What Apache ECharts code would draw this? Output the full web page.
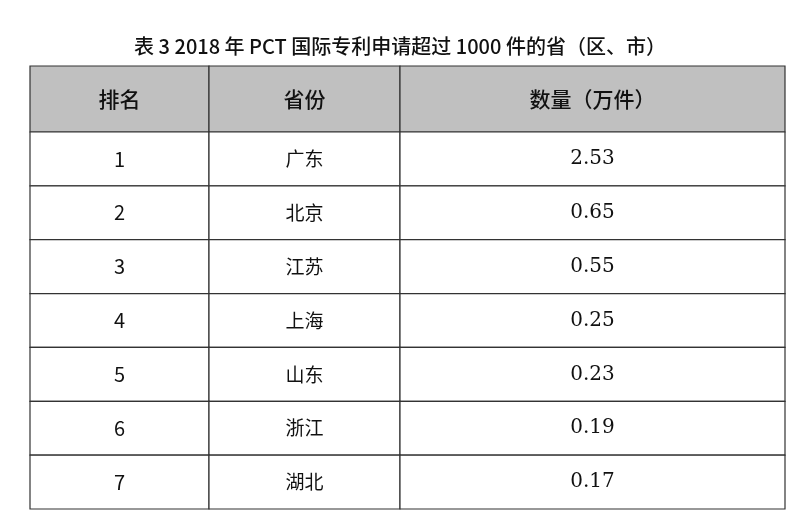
<!DOCTYPE html>
<html><head><meta charset="utf-8">
<script src="https://cdn.jsdelivr.net/npm/echarts@6/dist/echarts.min.js"></script>
<style>html,body{margin:0;background:#fff}#c{width:800px;height:520px}</style>
</head><body><div id="c"></div>
<script>
const title = '表 3 2018 年 PCT 国际专利申请超过 1000 件的省（区、市）';
const headers = ['排名', '省份', '数量（万件）'];
const ranks = ['1','2','3','4','5','6','7'];
const provinces = ['广东','北京','江苏','上海','山东','浙江','湖北'];
const values = [2.53, 0.65, 0.55, 0.25, 0.23, 0.19, 0.17];

const colEdges = [0, 179, 370, 755];
const headerH = 66, rowH = 53.86;
function rowTop(r){ return r === 0 ? 0 : headerH + (r-1)*rowH; }
function rowBot(r){ return r === 0 ? headerH : headerH + r*rowH; }

const cells = [];
headers.forEach((h,c)=>cells.push([c,0,h]));
ranks.forEach((rk,i)=>{
  cells.push([0,i+1,rk]);
  cells.push([1,i+1,provinces[i]]);
  cells.push([2,i+1,values[i].toFixed(2)]);
});

const chart = echarts.init(document.getElementById('c'));
chart.setOption({
  animation:false,
  title:{text:title,left:'center',top:31,textStyle:{fontFamily:'Noto Sans CJK SC',fontSize:20,fontWeight:500,color:'#111'}},
  grid:{left:30,top:66,width:755,height:443},
  xAxis:{type:'value',min:0,max:755,show:false},
  yAxis:{type:'value',min:0,max:443,inverse:true,show:false},
  series:[{
    type:'custom',
    data:cells,
    renderItem:function(params,api){
      const c=api.value(0), r=api.value(1);
      const p0=api.coord([colEdges[c],rowTop(r)]);
      const p1=api.coord([colEdges[c+1],rowBot(r)]);
      const txt=cells[params.dataIndex][2];
      const isHead=r===0;
      const isNum=!isHead && c===2;
      return {type:'group',children:[
        {type:'rect',shape:{x:p0[0],y:p0[1],width:p1[0]-p0[0],height:p1[1]-p0[1]},
         style:{fill:isHead?'#c0c0c0':'#fff',stroke:'#333',lineWidth:1.2}},
        {type:'text',style:{text:txt,x:(p0[0]+p1[0])/2,y:(p0[1]+p1[1])/2,align:'center',verticalAlign:'middle',
          fontFamily:isNum?'DejaVu Serif':'Noto Sans CJK SC',
          fontWeight:isHead?500:'normal',fontSize:isHead?21:(c===1?19:20),
          fill:'#111'}}
      ]};
    }
  }]
});
</script></body></html>
